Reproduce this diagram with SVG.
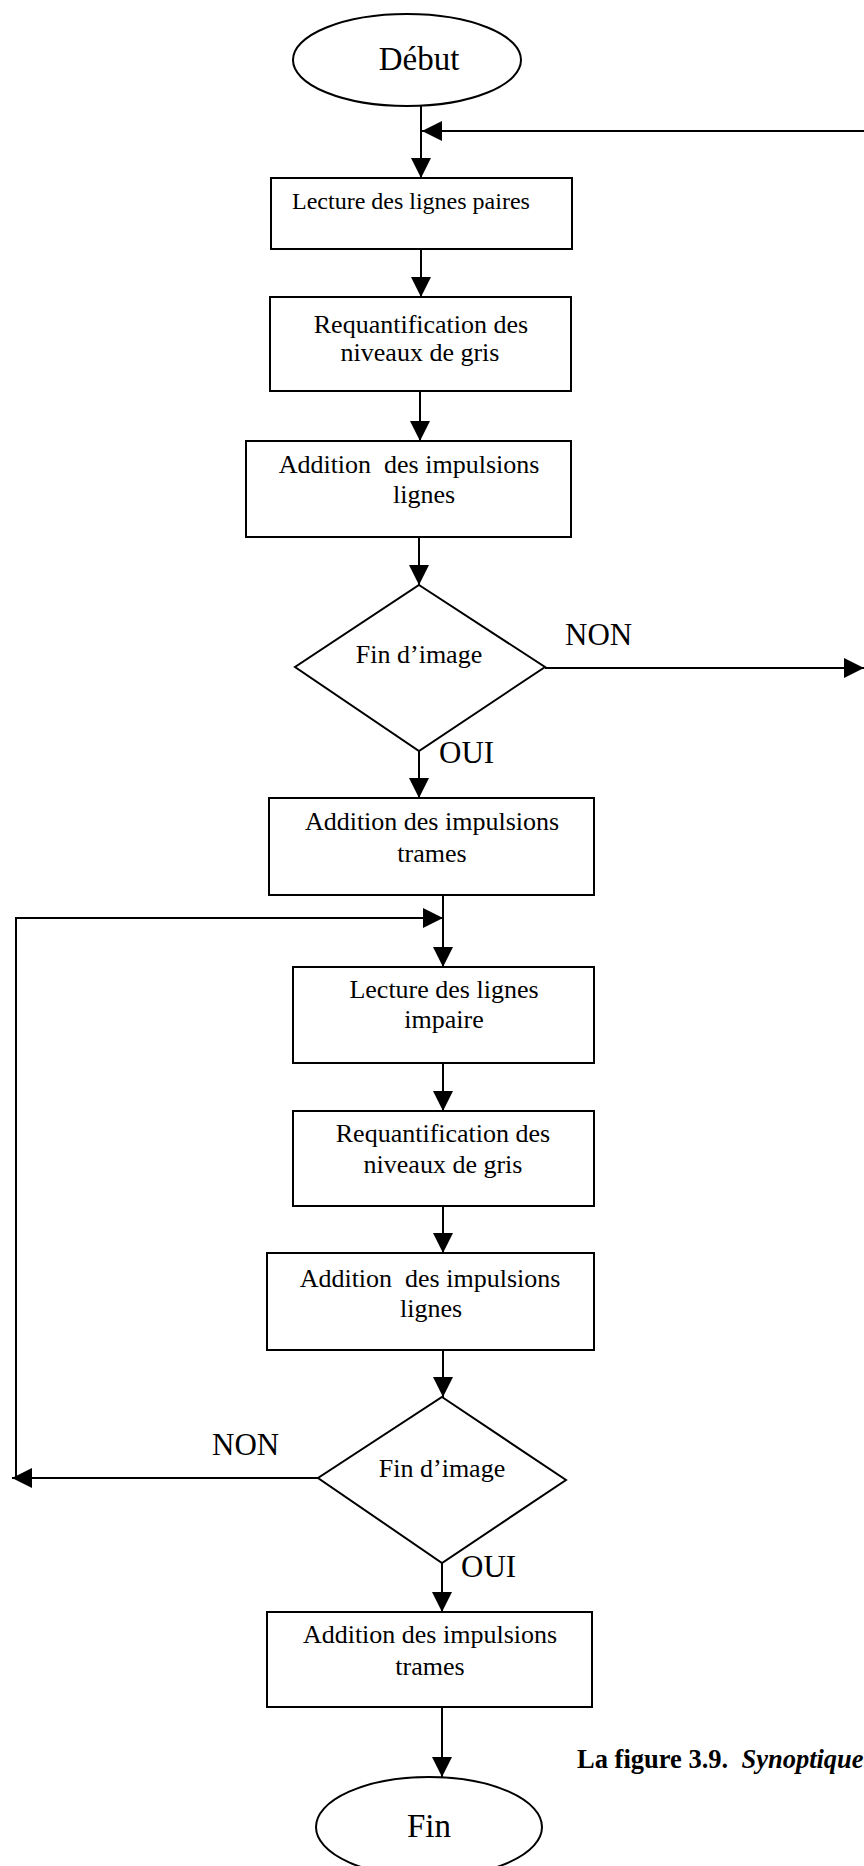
<svg xmlns="http://www.w3.org/2000/svg" width="864" height="1866" viewBox="0 0 864 1866">
<style>
.shape{fill:#fff;stroke:#000;stroke-width:2}
.conn{fill:none;stroke:#000;stroke-width:2}
.t{font-family:"Liberation Serif","Times New Roman",serif;font-size:26px;fill:#000;text-anchor:middle}
.t1{font-family:"Liberation Serif","Times New Roman",serif;font-size:24px;fill:#000}
.lbl{font-family:"Liberation Serif","Times New Roman",serif;font-size:31px;fill:#000}
.term{font-family:"Liberation Serif","Times New Roman",serif;font-size:33px;fill:#000;text-anchor:middle}
.cap{font-family:"Liberation Serif","Times New Roman",serif;font-size:26.5px;font-weight:bold;fill:#000}
</style>
<defs>
<marker id="ah" viewBox="0 0 20 20" refX="20" refY="10" markerWidth="20" markerHeight="20" markerUnits="userSpaceOnUse" orient="auto">
<path d="M0,0 L20,10 L0,20 z" fill="#000"/>
</marker>
</defs>
<rect width="864" height="1866" fill="#fff"/>
<g id="connectors">
<line class="conn" x1="421" y1="106" x2="421" y2="178" marker-end="url(#ah)"/>
<line class="conn" x1="864" y1="131" x2="422" y2="131" marker-end="url(#ah)"/>
<line class="conn" x1="421" y1="249" x2="421" y2="297" marker-end="url(#ah)"/>
<line class="conn" x1="420" y1="391" x2="420" y2="441" marker-end="url(#ah)"/>
<line class="conn" x1="419" y1="537" x2="419" y2="585" marker-end="url(#ah)"/>
<line class="conn" x1="545" y1="668" x2="864" y2="668" marker-end="url(#ah)"/>
<line class="conn" x1="419" y1="751" x2="419" y2="798" marker-end="url(#ah)"/>
<line class="conn" x1="443" y1="895" x2="443" y2="967" marker-end="url(#ah)"/>
<path class="conn" d="M16,1478 V918 H443" marker-end="url(#ah)"/>
<line class="conn" x1="443" y1="1063" x2="443" y2="1111" marker-end="url(#ah)"/>
<line class="conn" x1="443" y1="1206" x2="443" y2="1253" marker-end="url(#ah)"/>
<line class="conn" x1="443" y1="1350" x2="443" y2="1397" marker-end="url(#ah)"/>
<line class="conn" x1="318" y1="1478" x2="12" y2="1478" marker-end="url(#ah)"/>
<line class="conn" x1="442" y1="1563" x2="442" y2="1612" marker-end="url(#ah)"/>
<line class="conn" x1="442" y1="1707" x2="442" y2="1777" marker-end="url(#ah)"/>
</g>
<g id="debut">
<ellipse class="shape" cx="407" cy="60" rx="114" ry="46"/>
<text class="term" x="419" y="70">Début</text>
</g>
<g id="lecture-paires">
<rect class="shape" x="271" y="178" width="301" height="71"/>
<text class="t1" x="292" y="209">Lecture des lignes paires</text>
</g>
<g id="requant-1">
<rect class="shape" x="270" y="297" width="301" height="94"/>
<text class="t" x="421" y="333">Requantification des</text>
<text class="t" x="420" y="361">niveaux de gris</text>
</g>
<g id="addition-lignes-1">
<rect class="shape" x="246" y="441" width="325" height="96"/>
<text class="t" x="409" y="473" xml:space="preserve">Addition  des impulsions</text>
<text class="t" x="424" y="503">lignes</text>
</g>
<g id="fin-image-1">
<polygon class="shape" points="419,585 545,667 419,751 295,667"/>
<text class="t" x="419" y="663">Fin d’image</text>
<text class="lbl" x="565" y="645">NON</text>
<text class="lbl" x="439" y="763">OUI</text>
</g>
<g id="addition-trames-1">
<rect class="shape" x="269" y="798" width="325" height="97"/>
<text class="t" x="432" y="830">Addition des impulsions</text>
<text class="t" x="432" y="862">trames</text>
</g>
<g id="lecture-impaire">
<rect class="shape" x="293" y="967" width="301" height="96"/>
<text class="t" x="444" y="998">Lecture des lignes</text>
<text class="t" x="444" y="1028">impaire</text>
</g>
<g id="requant-2">
<rect class="shape" x="293" y="1111" width="301" height="95"/>
<text class="t" x="443" y="1142">Requantification des</text>
<text class="t" x="443" y="1173">niveaux de gris</text>
</g>
<g id="addition-lignes-2">
<rect class="shape" x="267" y="1253" width="327" height="97"/>
<text class="t" x="430" y="1287" xml:space="preserve">Addition  des impulsions</text>
<text class="t" x="431" y="1317">lignes</text>
</g>
<g id="fin-image-2">
<polygon class="shape" points="442,1397 566,1480 442,1563 318,1478"/>
<text class="t" x="442" y="1477">Fin d’image</text>
<text class="lbl" x="212" y="1455">NON</text>
<text class="lbl" x="461" y="1577">OUI</text>
</g>
<g id="addition-trames-2">
<rect class="shape" x="267" y="1612" width="325" height="95"/>
<text class="t" x="430" y="1643">Addition des impulsions</text>
<text class="t" x="430" y="1675">trames</text>
</g>
<g id="fin">
<ellipse class="shape" cx="429" cy="1827" rx="113" ry="50"/>
<text class="term" x="429" y="1837">Fin</text>
</g>
<g id="caption">
<text class="cap" x="577" y="1768" xml:space="preserve">La figure 3.9.  <tspan font-style="italic">Synoptique</tspan></text>
</g>
</svg>
